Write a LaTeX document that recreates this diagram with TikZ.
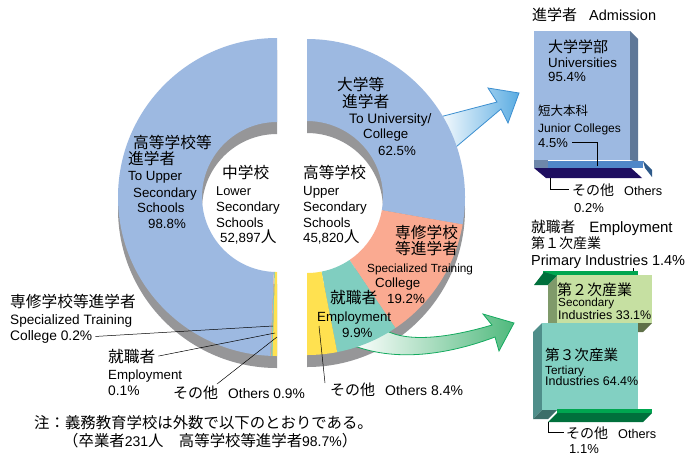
\documentclass[tikz,border=0pt]{standalone}
\usepackage{fontspec}
\setmainfont{Liberation Sans}
\newfontfamily\jp{Noto Sans CJK JP}
\usetikzlibrary{calc}
\definecolor{dblue}{RGB}{157,185,225}
\definecolor{dsalmon}{RGB}{250,170,145}
\definecolor{dteal}{RGB}{128,206,192}
\definecolor{dyellow}{RGB}{255,225,80}
\definecolor{dshadow}{RGB}{150,150,152}
\definecolor{abluefill}{RGB}{90,172,226}
\definecolor{abluel}{RGB}{60,143,208}
\definecolor{agreenfill}{RGB}{80,185,125}
\definecolor{agreenl}{RGB}{20,170,95}
\definecolor{barblue}{RGB}{157,185,225}
\definecolor{barblueside}{RGB}{95,120,152}
\definecolor{jcblue}{RGB}{80,135,200}
\definecolor{jcside}{RGB}{46,90,138}
\definecolor{jcleft}{RGB}{110,135,170}
\definecolor{navy}{RGB}{30,14,96}
\definecolor{gbright}{RGB}{0,166,80}
\definecolor{gdark}{RGB}{0,112,60}
\definecolor{secfront}{RGB}{198,224,162}
\definecolor{secleft}{RGB}{127,154,106}
\definecolor{secbottom}{RGB}{95,112,72}
\definecolor{terfront}{RGB}{130,208,194}
\definecolor{terleft}{RGB}{79,142,138}
\definecolor{terbottom}{RGB}{61,110,106}
\newcommand\fsz[1]{\fontsize{#1}{16}\selectfont}
% cx, cy, rin, rout, a1, a2, colour
\newcommand\dsector[7]{\fill[#7] (#1,#2) ++(#5:#4) arc[start angle=#5, end angle=#6, radius=#4] -- ++({#6+180}:{#4-#3}) arc[start angle=#6, end angle=#5, radius=#3] -- cycle;}
\tikzset{
  lt/.style={anchor=base west, inner sep=0pt, font=\fsz{13.3}},
  jt/.style={anchor=base west, inner sep=0pt, font=\jp\fsz{15.7}},
  lead/.style={draw=black, line width=0.5pt},
}
\begin{document}
\begin{tikzpicture}[x=1pt,y=-1pt]
\useasboundingbox (0,0) rectangle (687,459);
\fill[white] (0,0) rectangle (687,459);
% shadows
\dsector{277}{209}{75}{159}{-90}{-270}{dshadow}
\dsector{307}{209}{76}{158}{-90}{90}{dshadow}
% arrows
\path[draw=abluel, line width=0.8pt, line join=miter, left color=white, right color=abluefill]
  (436,118) -- (497,102) -- (488,88) -- (519,93) -- (508,123) -- (501,109) -- (450,152) -- cycle;
\path[draw=agreenl, line width=0.8pt, line join=miter, left color=white, right color=agreenfill]
  (385,330) .. controls (410,344) and (455,336) .. (492,325) -- (483,314) -- (514,323)
  -- (499,351) -- (495,337) .. controls (455,352) and (400,364) .. (352,345) -- cycle;
% left half
\dsector{277}{197}{75}{159}{-90}{-267.6}{dblue}
\dsector{277}{197}{75}{159}{-267.6}{-267.9}{dsalmon}
\dsector{277}{197}{75}{159}{-267.9}{-268.4}{dteal}
\dsector{277}{197}{75}{159}{-268.4}{-270}{dyellow}
% right half
\dsector{307}{197}{76}{158}{-90}{10}{dblue}
\dsector{307}{197}{76}{158}{10}{56}{dsalmon}
\dsector{307}{197}{76}{158}{56}{79}{dteal}
\dsector{307}{197}{76}{158}{79}{90}{dyellow}

% Admission bar
\fill[barblueside] (630,31) -- (638,39) -- (638,162) -- (630,160) -- cycle;
\fill[barblue] (534,31) rectangle (630,160);
\fill[jcleft] (534,160) rectangle (548,168);
\fill[jcside] (643,161) -- (652,170) -- (652,177) -- (645,168) -- cycle;
\fill[jcblue] (548,161) rectangle (643,168);
\fill[navy] (534,168) -- (631,168) -- (642,178) -- (546,178) -- cycle;

% Employment bar
\fill[gbright] (543,271) rectangle (638,276);
\fill[gdark] (534,285) -- (544,272) -- (557,276) -- (548,285) -- cycle;
\fill[secleft] (548,285) -- (557,276) -- (557,323) -- (548,332) -- cycle;
\fill[secbottom] (548,332) -- (557,323) -- (652,323) -- (643,332) -- cycle;
\fill[secfront] (557,275) rectangle (652,323);
\fill[terleft] (533,332) -- (542,323) -- (542,410) -- (533,419) -- cycle;
\fill[terfront] (542,323) rectangle (638,410);
\fill[terbottom] (533,419) -- (542,410) -- (557,410) -- (548,419) -- cycle;
\fill[gbright] (557,409) rectangle (652,413);
\fill[gdark] (548,422) -- (557,413) -- (652,413) -- (643,422) -- cycle;

% left donut label
\node[jt] (n1) at (133,148) {高等学校等};
\node[jt] (n2) at (128,164) {進学者};
\node[lt] (n3) at (128,180) {To Upper};
\node[lt] (n4) at (133,197) {Secondary};
\node[lt] (n5) at (137,212) {Schools};
\node[lt] (n6) at (148,228) {98.8\%};
% centre left
\node[jt] (c1) at (222,178) {中学校};
\node[lt, font=\fsz{12.8}] (c2) at (216,195) {Lower};
\node[lt] (c3) at (216,211) {Secondary};
\node[lt] (c4) at (216,227) {Schools};
\node[lt] (c5) at (220,242) {52,897{\jp\fsz{15.7}人}};
% centre right
\node[jt] (d1) at (303,178) {高等学校};
\node[lt] (d2) at (303,195) {Upper};
\node[lt] (d3) at (303,211) {Secondary};
\node[lt] (d4) at (303,227) {Schools};
\node[lt] (d5) at (303,242) {45,820{\jp\fsz{15.7}人}};
% university
\node[jt] (u1) at (337,90) {大学等};
\node[jt] (u2) at (342,107) {進学者};
\node[lt, font=\fsz{13.7}] (u3) at (349,123) {To University/};
\node[lt] (u4) at (363,138) {College};
\node[lt] (u5) at (378,155) {62.5\%};
% specialized
\node[jt] (s1) at (395,238) {専修学校};
\node[jt] (s2) at (395,254) {等進学者};
\node[lt, font=\fsz{11.8}] (s3) at (367,272) {Specialized Training};
\node[lt] (s4) at (375,287) {College};
\node[lt] (s5) at (387,303) {19.2\%};
% employment
\node[jt] (e1) at (330,303) {就職者};
\node[lt] (e2) at (317,321) {Employment};
\node[lt] (e3) at (342,337) {9.9\%};
\node[lt, font=\fsz{14}] (o1) at (330,395) {{\jp\fsz{15}その他}\hspace{10pt}Others 8.4\%};

% left outside labels
\node[jt] (l1) at (10,307) {専修学校等進学者};
\node[lt, font=\fsz{13.6}] (l2) at (10,324) {Specialized Training};
\node[lt, font=\fsz{13.8}] (l3) at (10,340) {College 0.2\%};
\node[jt] (l4) at (108,362) {就職者};
\node[lt] (l5) at (108,379) {Employment};
\node[lt, font=\fsz{13.8}] (l6) at (108,395) {0.1\%};
\node[lt, font=\fsz{13.8}] (l7) at (173,398) {{\jp\fsz{15}その他}\hspace{10pt}Others 0.9\%};

% Admission texts
\node[lt, font=\fsz{14.5}] (h1) at (532,20) {{\jp\fsz{15}進学者}\hspace{12pt}Admission};
\node[jt, font=\jp\fsz{15}] (a1) at (548,52) {大学学部};
\node[lt] (a2) at (548,67) {Universities};
\node[lt] (a3) at (548,81) {95.4\%};
\node[jt, font=\jp\fsz{12.5}] (a4) at (538,115) {短大本科};
\node[lt, font=\fsz{12}] (a5) at (538,132) {Junior Colleges};
\node[lt, font=\fsz{13}] (a6) at (538,147) {4.5\%};
\node[lt, font=\fsz{12.7}] (a7) at (572,195) {{\jp\fsz{14}その他}\hspace{10pt}Others};
\node[lt, font=\fsz{13}] (a8) at (574,212) {0.2\%};

% Employment texts
\node[lt, font=\fsz{15}] (b1) at (531,232) {{\jp\fsz{14.7}就職者}\hspace{14pt}Employment};
\node[jt, font=\jp\fsz{14}] (b2) at (531,248) {第１次産業};
\node[lt, font=\fsz{14.5}] (b3) at (531,265) {Primary Industries 1.4\%};
\node[jt, font=\jp\fsz{15}] (b4) at (557,295) {第２次産業};
\node[lt, font=\fsz{11.7}] (b5) at (558,306) {Secondary};
\node[lt, font=\fsz{12.5}] (b6) at (558,319) {Industries 33.1\%};
\node[jt, font=\jp\fsz{14.6}] (t1) at (545,360) {第３次産業};
\node[lt, font=\fsz{11.8}] (t2) at (545,374) {Tertiary};
\node[lt, font=\fsz{12.5}] (t3) at (545,385) {Industries 64.4\%};
\node[lt, font=\fsz{12.7}] (t4) at (566,438) {{\jp\fsz{14}その他}\hspace{10pt}Others};
\node[lt, font=\fsz{13}] (t5) at (569,453) {1.1\%};

% note
\node[jt, font=\jp\fsz{15.4}] (m1) at (34,428) {注：義務教育学校は外数で以下のとおりである。};
\node[lt, font=\fsz{14}] (m2) at (63,446) {{\jp\fsz{15.4}（卒業者}231{\jp\fsz{15.4}人　高等学校等進学者}98.7\%{\jp\fsz{15.4}）}};

% leader lines
\coordinate (sp1) at (273,326);
\coordinate (sp2) at (275,333);
\coordinate (sp3) at (277,337);
\coordinate (q3) at (217,384);
\coordinate (ry) at (319,326);
\coordinate (qr) at (325,383);
\coordinate (jc1) at (597,166);
\coordinate (ao) at (550,178);
\coordinate (pt1) at (633,271);
\coordinate (to) at (548,422);
\draw[lead] ([xshift=3pt]l3.east) -- (sp1);
\draw[lead] ([xshift=3pt]l4.east) -- (sp2);
\draw[lead] (q3) -- (sp3);
\draw[lead] (ry) -- (qr);
\draw[lead] ([xshift=4pt]a6.east) -| (jc1);
\draw[lead] (ao) |- ([xshift=-3pt]a7.west);
\draw[lead] (pt1) -- (pt1 |- b3.south);
\draw[lead] (to) |- ([xshift=-2pt]t4.west);
\end{tikzpicture}
\end{document}
